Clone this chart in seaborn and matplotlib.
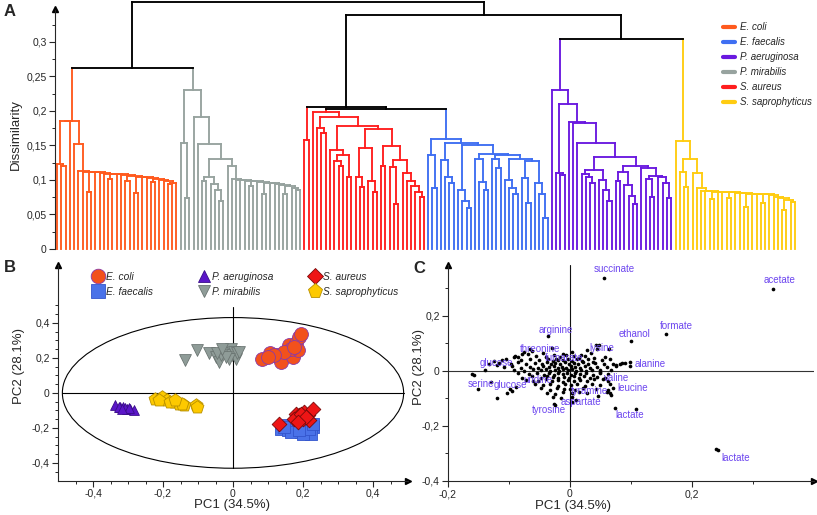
import numpy as np
import pandas as pd
import matplotlib
matplotlib.use("Agg")
import matplotlib.pyplot as plt
import seaborn as sns
from matplotlib.patches import Ellipse
from matplotlib.lines import Line2D
from matplotlib.collections import LineCollection
from matplotlib.ticker import FuncFormatter, FixedLocator

sns.set_style("ticks")
plt.rcParams['font.family'] = ['Liberation Sans', 'DejaVu Sans']

# ---------------------------------------------------------------- data
SPECIES = ["E. coli", "E. faecalis", "P. aeruginosa", "P. mirabilis", "S. aureus", "S. saprophyticus"]
DENDRO_COLORS = ["#ff5a1e", "#3f6ff2", "#6a19e0", "#97a39f", "#ff1e1e", "#ffcc11"]

L = 0  # a leaf (one spectrum)


def cat(hs, items):
    node = items[-1]
    for h, it in zip(reversed(hs), reversed(items[:-1])):
        node = (h, it, node)
    return node


ORANGE_TREE = (0.186,
    (0.185, (0.123, L, (0.120, L, L)), L),
    (0.152, L, cat([0.113, 0.112, 0.111, 0.111, 0.110, 0.109, 0.108, 0.108, 0.107, 0.106,
                    0.105, 0.104, 0.103, 0.102, 0.100, 0.099, 0.096],
                   [L, L, (0.083, L, L), L, L, L, (0.101, L, L), L, L, (0.099, L, L),
                    (0.081, L, L), L, L, (0.097, L, L), L, L, (0.094, L, L), L])))

GRAY_TREE = (0.231,
    (0.154, L, (0.074, L, L)),
    (0.192, L,
        (0.152, L,
            (0.131,
                (0.105, (0.098, L, L), (0.094, L, (0.085, L, (0.070, L, L)))),
                (0.120, L, cat([0.101, 0.100, 0.100, 0.099, 0.098, 0.097, 0.096, 0.095, 0.094,
                                0.093, 0.091, 0.089],
                               [L, L, L, L, (0.092, L, L), L, (0.079, L, L), L, L, L,
                                (0.079, L, L), L, (0.085, L, L)]))))))

RED_TREE_A = (0.158, L, L)
RED_TREE_B = (0.198, L,
    (0.191, (0.175, L, (0.168, L, L)),
        (0.178,
            (0.143, L, (0.136, (0.127, L, (0.121, L, L)), (0.104, L, L))),
            (0.174,
                (0.146, (0.105, L, (0.090, L, L)), (0.099, L, (0.082, L, L))),
                (0.149, (0.120, L, L),
                    (0.129, (0.119, L, (0.065, L, L)),
                        (0.110, L, (0.098, L, (0.091, L, (0.083, L, (0.075, L, L)))))))))))

BLUE_TREE = (0.160,
    (0.136, L, (0.088, L, L)),
    (0.153,
        (0.129, L, (0.104, L, (0.095, L, L))),
        (0.151,
            (0.086, L, (0.070, L, (0.060, L, L))),
            (0.138,
                (0.131, L, (0.097, L, (0.085, L, L))),
                (0.136,
                    (0.131, L, (0.118, L, L)),
                    (0.130,
                        (0.100, L, (0.089, L, (0.080, L, L))),
                        (0.127, (0.103, L, (0.066, L, L)),
                                (0.095, L, (0.080, L, (0.045, L, L))))))))))

PURPLE_TREE = (0.230, L,
    (0.210, (0.110, L, (0.107, L, L)),
        (0.184, L,
            (0.182, L,
                (0.153, L,
                    (0.133,
                        (0.114, (0.108, L, (0.104, L, (0.095, L, L))),
                                (0.100, L, (0.085, L, (0.070, L, L)))),
                        (0.120,
                            (0.112, (0.098, L, L), (0.093, L, (0.077, L, (0.065, L, L)))),
                            (0.117, L, (0.106, (0.101, L, (0.076, L, L)),
                                        (0.104, L, (0.096, L, (0.074, L, L))))))))))))

YELLOW_TREE = (0.157, L,
    (0.130, (0.112, L, (0.090, L, L)),
        (0.110, L, (0.088, L, cat([0.084, 0.084, 0.083, 0.083, 0.082, 0.082, 0.081, 0.081, 0.080,
                                   0.080, 0.079, 0.079, 0.078, 0.076, 0.074, 0.071, 0.068],
                                  [L, L, (0.072, L, L), L, L, (0.074, L, L), L, L, (0.061, L, L),
                                   L, L, (0.066, L, L), L, L, L, (0.056, L, L), L, L])))))

CLUSTER_TREES = {"E. coli": ORANGE_TREE, "P. mirabilis": GRAY_TREE, "S. aureus A": RED_TREE_A,
                 "S. aureus": RED_TREE_B, "E. faecalis": BLUE_TREE, "P. aeruginosa": PURPLE_TREE,
                 "S. saprophyticus": YELLOW_TREE}
CLUSTER_SPECIES = {"S. aureus A": "S. aureus"}
UPPER_TREE = (0.358, (0.263, "E. coli", "P. mirabilis"),
              (0.339, (0.206, "S. aureus A", (0.203, "S. aureus", "E. faecalis")),
                      (0.305, "P. aeruginosa", "S. saprophyticus")))

# PCA scores (panel B)
ECOLI_X = [0.084, 0.106, 0.127, 0.137, 0.156, 0.161, 0.170, 0.180, 0.185, 0.189, 0.194, 0.166, 0.146, 0.118, 0.099, 0.175]
ECOLI_Y = [0.196, 0.225, 0.215, 0.177, 0.234, 0.272, 0.206, 0.282, 0.244, 0.320, 0.339, 0.253, 0.234, 0.215, 0.206, 0.263]
EFAEC_X = [0.137, 0.156, 0.175, 0.194, 0.213, 0.228, 0.156, 0.185, 0.204, 0.223, 0.166, 0.199, 0.218, 0.146, 0.189, 0.228]
EFAEC_Y = [-0.204, -0.213, -0.204, -0.223, -0.213, -0.194, -0.185, -0.185, -0.194, -0.232, -0.223, -0.232, -0.204, -0.194, -0.213, -0.175]
PAER_X = [-0.337, -0.322, -0.313, -0.303, -0.294, -0.284, -0.327, -0.308, -0.298, -0.318]
PAER_Y = [-0.070, -0.080, -0.080, -0.090, -0.093, -0.099, -0.082, -0.085, -0.088, -0.092]
PMIR_X = [-0.136, -0.102, -0.069, -0.050, -0.040, -0.035, -0.026, -0.016, -0.007, -0.002, 0.003, 0.008, 0.012, 0.017, -0.011, -0.021, -0.045, -0.031]
PMIR_Y = [0.187, 0.244, 0.225, 0.206, 0.177, 0.215, 0.244, 0.225, 0.253, 0.215, 0.234, 0.196, 0.225, 0.234, 0.196, 0.206, 0.225, 0.253]
SAUR_X = [0.132, 0.180, 0.189, 0.199, 0.204, 0.213, 0.228, 0.218, 0.175, 0.194, 0.208, 0.185]
SAUR_Y = [-0.175, -0.118, -0.128, -0.147, -0.109, -0.128, -0.090, -0.156, -0.147, -0.118, -0.137, -0.166]
SSAP_X = [-0.222, -0.203, -0.189, -0.169, -0.155, -0.141, -0.107, -0.102, -0.212, -0.179, -0.146, -0.165]
SSAP_Y = [-0.032, -0.023, -0.042, -0.051, -0.061, -0.070, -0.070, -0.080, -0.042, -0.051, -0.061, -0.042]
SCORE_X = [ECOLI_X, EFAEC_X, PAER_X, PMIR_X, SAUR_X, SSAP_X]
SCORE_Y = [ECOLI_Y, EFAEC_Y, PAER_Y, PMIR_Y, SAUR_Y, SSAP_Y]
SCORE_FACE = ["#f2511c", "#4a72e8", "#5b16c8", "#8f9c98", "#ee1515", "#fdc900"]
SCORE_EDGE = ["#8a3aa8", "#3355cc", "#3a0d8a", "#6b7572", "#7a0a0a", "#b89000"]
SCORE_MARKER = ["o", "s", "^", "v", "D", "p"]
SCORE_SIZE = [100, 68, 50, 72, 56, 95]
LEGEND_MS = [10.5, 10, 8.5, 9, 8.5, 11]
ELLIPSE_W, ELLIPSE_H = 0.975, 0.86

# PCA loadings (panel C)
LOAD_PTS = [
    (0.056, 0.339), (0.332, 0.296), (0.157, 0.133), (0.100, 0.108), (0.098, 0.033), (0.098, 0.018),
    (0.043, 0.096), (0.064, 0.079), (0.048, 0.094), (-0.036, 0.127), (-0.069, 0.061), (-0.116, 0.030),
    (-0.023, 0.045), (-0.158, -0.013), (-0.151, -0.064), (-0.099, -0.064), (-0.061, -0.038),
    (0.054, -0.030), (0.070, -0.062), (0.015, -0.076), (0.004, -0.113), (-0.027, -0.119), (-0.025, -0.124),
    (0.074, -0.133), (0.109, -0.137), (0.242, -0.288), (0.240, -0.284),
    (-0.085, 0.052), (-0.076, 0.068), (-0.062, 0.072), (-0.045, 0.066), (-0.030, 0.084), (-0.012, 0.062),
    (0.003, 0.070), (0.018, 0.058), (0.028, 0.075), (0.035, 0.064), (0.045, 0.078),
    (-0.105, 0.044), (-0.092, 0.050), (-0.055, 0.056), (-0.040, 0.051), (-0.027, 0.058), (-0.017, 0.049),
    (-0.006, 0.057), (0.006, 0.053), (0.014, 0.048), (0.024, 0.055), (0.040, 0.046), (0.058, 0.050),
    (-0.125, 0.036), (-0.112, 0.041), (-0.080, 0.038), (-0.066, 0.043), (-0.050, 0.039), (-0.036, 0.044),
    (-0.028, 0.035), (-0.019, 0.041), (-0.011, 0.038), (-0.003, 0.045), (0.004, 0.036), (0.011, 0.042),
    (0.019, 0.037), (0.029, 0.043), (0.037, 0.034), (0.052, 0.038), (0.066, 0.042),
    (-0.133, 0.027), (-0.120, 0.022), (-0.097, 0.026), (-0.086, 0.031), (-0.072, 0.025), (-0.058, 0.030),
    (-0.046, 0.026), (-0.038, 0.032), (-0.031, 0.024), (-0.024, 0.029), (-0.016, 0.026), (-0.009, 0.032),
    (-0.002, 0.027), (0.006, 0.030), (0.013, 0.025), (0.021, 0.031), (0.030, 0.026), (0.041, 0.029),
    (0.055, 0.024), (0.070, 0.027), (0.082, 0.025), (0.090, 0.028),
    (-0.108, 0.013), (-0.095, 0.018), (-0.081, 0.012), (-0.066, 0.016), (-0.053, 0.011), (-0.044, 0.018),
    (-0.035, 0.013), (-0.027, 0.017), (-0.020, 0.011), (-0.013, 0.016), (-0.006, 0.012), (0.001, 0.018),
    (0.008, 0.014), (0.016, 0.010), (0.024, 0.017), (0.033, 0.012), (0.045, 0.016), (0.060, 0.013), (0.075, 0.018),
    (-0.092, 0.004), (-0.075, 0.001), (-0.060, 0.006), (-0.048, 0.002), (-0.040, 0.007), (-0.032, 0.001),
    (-0.025, 0.005), (-0.018, 0.000), (-0.011, 0.006), (-0.004, 0.002), (0.003, 0.007), (0.010, 0.001),
    (0.018, 0.005), (0.026, 0.000), (0.036, 0.004), (0.050, 0.002), (0.068, 0.005),
    (-0.085, -0.008), (-0.068, -0.012), (-0.054, -0.007), (-0.043, -0.013), (-0.034, -0.009), (-0.026, -0.014),
    (-0.019, -0.007), (-0.012, -0.012), (-0.005, -0.008), (0.002, -0.013), (0.009, -0.007), (0.017, -0.011),
    (0.026, -0.008), (0.037, -0.013), (0.049, -0.009), (0.062, -0.012),
    (-0.078, -0.024), (-0.062, -0.020), (-0.048, -0.025), (-0.037, -0.019), (-0.028, -0.023), (-0.019, -0.027),
    (-0.010, -0.021), (-0.002, -0.025), (0.006, -0.019), (0.014, -0.024), (0.023, -0.020), (0.033, -0.026),
    (0.045, -0.021), (0.058, -0.024),
    (-0.072, -0.033), (-0.052, -0.037), (-0.040, -0.031), (-0.030, -0.038), (-0.020, -0.034), (-0.011, -0.039),
    (-0.003, -0.032), (0.006, -0.037), (0.016, -0.033), (0.028, -0.036), (0.040, -0.031), (0.062, -0.036),
    (-0.058, -0.048), (-0.044, -0.052), (-0.032, -0.046), (-0.020, -0.053), (-0.009, -0.047), (0.002, -0.051),
    (0.012, -0.046), (0.024, -0.054), (0.036, -0.048), (0.050, -0.052), (0.066, -0.049),
    (-0.047, -0.063), (-0.033, -0.068), (-0.021, -0.062), (-0.010, -0.067), (0.000, -0.064), (0.009, -0.069),
    (0.022, -0.062), (0.043, -0.066), (0.063, -0.070),
    (-0.038, -0.079), (-0.024, -0.083), (-0.012, -0.077), (0.004, -0.082), (0.028, -0.079), (0.066, -0.081),
    (0.068, -0.086), (-0.028, -0.093), (-0.014, -0.098), (0.003, -0.094), (0.046, -0.091),
    (-0.160, -0.012), (-0.130, -0.040), (-0.120, -0.097), (-0.104, -0.082), (-0.095, -0.072), (-0.088, -0.058),
    (-0.090, 0.055), (-0.078, 0.060), (-0.065, 0.078), (-0.140, 0.005), (0.010, -0.105), (0.075, 0.022),
    (0.085, 0.030), (0.060, -0.075), (0.050, -0.005),
]
C_LABELS = ["succinate", "acetate", "formate", "ethanol", "alanine", "lysine", "arginine", "threonine",
            "glucose", "fumarate", "serine", "glucose", "uridine", "valine", "leucine", "tyramine",
            "aspartate", "tyrosine", "lactate", "lactate"]
C_LABEL_X = [0.073, 0.343, 0.174, 0.105, 0.131, 0.052, -0.024, -0.049, -0.121, -0.009, -0.146, -0.097,
             -0.053, 0.077, 0.103, 0.032, 0.018, -0.034, 0.098, 0.272]
C_LABEL_Y = [0.372, 0.332, 0.162, 0.133, 0.024, 0.085, 0.148, 0.078, 0.030, 0.047, -0.046, -0.052,
             -0.034, -0.024, -0.062, -0.073, -0.113, -0.143, -0.159, -0.315]

# ---------------------------------------------------------------- helpers
W, H = 817, 515
fig = plt.figure(figsize=(W / 100, H / 100), dpi=100)


def comma(v, pos=None):
    if abs(v) < 1e-9:
        return "0"
    s = f"{v:.2f}".rstrip("0").rstrip(".")
    return s.replace(".", ",")


def style_axis(ax):
    for sp in ["top", "right"]:
        ax.spines[sp].set_visible(False)
    for sp in ["left", "bottom"]:
        ax.spines[sp].set_linewidth(0.8)
    ax.tick_params(which="major", direction="out", length=4, width=0.8, labelsize=7.5, pad=2)
    ax.tick_params(which="minor", direction="out", length=2.2, width=0.7)


# ---------------------------------------------------------------- panel A: dendrogram
axA = fig.add_axes([55 / W, 1 - 249 / H, (805 - 55) / W, 248 / H])
segs, cols = [], []
counter = [0]
color_of = dict(zip(SPECIES, DENDRO_COLORS))


def layout(node, color):
    if isinstance(node, str):
        sp = CLUSTER_SPECIES.get(node, node)
        return layout(CLUSTER_TREES[node], color_of[sp])
    if isinstance(node, int):
        x = counter[0]
        counter[0] += 1
        return x, 0.0, color
    h, left, right = node
    xl, hl, cl = layout(left, color)
    xr, hr, cr = layout(right, color)
    segs.append([(xl, hl), (xl, h)]); cols.append(cl)
    segs.append([(xr, hr), (xr, h)]); cols.append(cr)
    segs.append([(xl, h), (xr, h)]); cols.append(color)
    return (xl + xr) / 2, h, color


layout(UPPER_TREE, "black")
n_leaves = counter[0]
lc = LineCollection(segs, colors=cols, linewidths=1.35, capstyle="projecting", clip_on=False)
axA.add_collection(lc)
sp_px = (795 - 57) / (n_leaves - 1)
axA.set_xlim(-2 / sp_px, (n_leaves - 1) + 10 / sp_px)
axA.set_ylim(0, 248 / 690)
style_axis(axA)
axA.spines["bottom"].set_visible(False)
axA.set_xticks([])
axA.spines["left"].set_bounds(0, 0.347)
axA.yaxis.set_major_locator(FixedLocator([0, 0.05, 0.1, 0.15, 0.2, 0.25, 0.3]))
axA.yaxis.set_minor_locator(FixedLocator([0.025, 0.075, 0.125, 0.175, 0.225, 0.275, 0.325]))
axA.yaxis.set_major_formatter(FuncFormatter(comma))
axA.plot([0], [0.348], marker="^", color="k", ms=4.5, transform=axA.get_yaxis_transform(), clip_on=False)
axA.set_ylabel("Dissimilarity", fontsize=9.5)
axA.yaxis.set_label_coords(-0.044, 0.46)
hand = [Line2D([], [], color=c, lw=3) for c in DENDRO_COLORS]
fig.legend(hand, SPECIES, loc="upper left", bbox_to_anchor=(723 / W, 1 - 22 / H), frameon=False,
           prop={"style": "italic", "size": 7}, handlelength=1.2, handletextpad=0.55,
           labelspacing=0.52, borderpad=0, borderaxespad=0)

# ---------------------------------------------------------------- panel B: scores
axB = fig.add_axes([58 / W, 1 - 480.5 / H, 350 / W, 215.5 / H])
draw_order = [0, 3, 2, 5, 1, 4]
for i in draw_order:
    df = pd.DataFrame({"PC1": SCORE_X[i], "PC2": SCORE_Y[i]})
    sns.scatterplot(data=df, x="PC1", y="PC2", ax=axB, marker=SCORE_MARKER[i], color=SCORE_FACE[i],
                    edgecolor=SCORE_EDGE[i], linewidth=0.6, s=SCORE_SIZE[i], legend=False, zorder=3)
axB.add_patch(Ellipse((0, 0), ELLIPSE_W, ELLIPSE_H, fill=False, lw=0.8, color="k", zorder=2))
axB.plot([0, 0], [-ELLIPSE_H / 2, 0.49], color="k", lw=0.8, zorder=2)
axB.plot([-ELLIPSE_W / 2, ELLIPSE_W / 2], [0, 0], color="k", lw=0.8, zorder=2)
axB.set_xlim(-0.5, 0.5)
axB.set_ylim(-0.5, 0.73)
style_axis(axB)
axB.xaxis.set_major_locator(FixedLocator([-0.4, -0.2, 0, 0.2, 0.4]))
axB.xaxis.set_minor_locator(FixedLocator(np.round(np.arange(-0.45, 0.5, 0.05), 3)))
axB.yaxis.set_major_locator(FixedLocator([-0.4, -0.2, 0, 0.2, 0.4]))
axB.yaxis.set_minor_locator(FixedLocator(np.round(np.arange(-0.45, 0.51, 0.05), 3)))
axB.xaxis.set_major_formatter(FuncFormatter(comma))
axB.yaxis.set_major_formatter(FuncFormatter(comma))
axB.plot(0, 1, marker="^", color="k", ms=4.5, transform=axB.transAxes, clip_on=False)
axB.plot(1, 0, marker=">", color="k", ms=4.5, transform=axB.transAxes, clip_on=False)
axB.set_xlabel("PC1 (34.5%)", fontsize=9.5)
axB.set_ylabel("PC2 (28.1%)", fontsize=9.5)
axB.xaxis.set_label_coords(0.497, -0.088)
axB.yaxis.set_label_coords(-0.094, 0.53)
handB = [Line2D([], [], ls="", marker=SCORE_MARKER[i], markerfacecolor=SCORE_FACE[i],
                markeredgecolor=SCORE_EDGE[i], markeredgewidth=0.6,
                markersize=LEGEND_MS[i]) for i in range(6)]
LEG_COL_X = [92, 198, 309]   # left edge of each legend column, px
for c in range(3):
    leg = axB.legend(handB[2 * c:2 * c + 2], SPECIES[2 * c:2 * c + 2], loc="upper left",
                     bbox_to_anchor=(LEG_COL_X[c] / W, 1 - 272 / H), bbox_transform=fig.transFigure,
                     frameon=False, prop={"style": "italic", "size": 7.3},
                     handlelength=1.1, handletextpad=0.3, labelspacing=0.45,
                     borderpad=0, borderaxespad=0)
    if c < 2:
        axB.add_artist(leg)

# ---------------------------------------------------------------- panel C: loadings
axC = fig.add_axes([448 / W, 1 - 481 / H, 366 / W, 216 / H])
dfl = pd.DataFrame(LOAD_PTS, columns=["PC1", "PC2"])
axC.axhline(0, color="#333333", lw=0.8, zorder=1)
axC.axvline(0, color="#111111", lw=0.8, zorder=1)
sns.scatterplot(data=dfl, x="PC1", y="PC2", ax=axC, color="black", s=7, linewidth=0, legend=False, zorder=3)
for t, x, y in zip(C_LABELS, C_LABEL_X, C_LABEL_Y):
    axC.text(x, y, t, color="#6c45ef", fontsize=7, ha="center", va="center", zorder=4)
axC.set_xlim(-0.2, 0.4)
axC.set_ylim(-0.4, 0.385)
style_axis(axC)
axC.xaxis.set_major_locator(FixedLocator([-0.2, 0, 0.2]))
axC.xaxis.set_minor_locator(FixedLocator([-0.1, 0.1, 0.3]))
axC.yaxis.set_major_locator(FixedLocator([-0.4, -0.2, 0, 0.2]))
axC.yaxis.set_minor_locator(FixedLocator([-0.3, -0.1, 0.1, 0.3]))
axC.xaxis.set_major_formatter(FuncFormatter(comma))
axC.yaxis.set_major_formatter(FuncFormatter(comma))
axC.plot(0, 1, marker="^", color="k", ms=4.5, transform=axC.transAxes, clip_on=False)
axC.plot(1, 0, marker=">", color="k", ms=4.5, transform=axC.transAxes, clip_on=False)
axC.set_xlabel("PC1 (34.5%)", fontsize=9.5)
axC.set_ylabel("PC2 (28.1%)", fontsize=9.5)
axC.xaxis.set_label_coords(0.342, -0.088)
axC.yaxis.set_label_coords(-0.063, 0.53)

# ---------------------------------------------------------------- panel letters
fig.text(4 / W, 1 - 4 / H, "A", fontsize=12, fontweight="bold", va="top", ha="left")
fig.text(4 / W, 1 - 260 / H, "B", fontsize=12, fontweight="bold", va="top", ha="left")
fig.text(413 / W, 1 - 261 / H, "C", fontsize=12, fontweight="bold", va="top", ha="left")

fig.savefig("out.png", dpi=100)
